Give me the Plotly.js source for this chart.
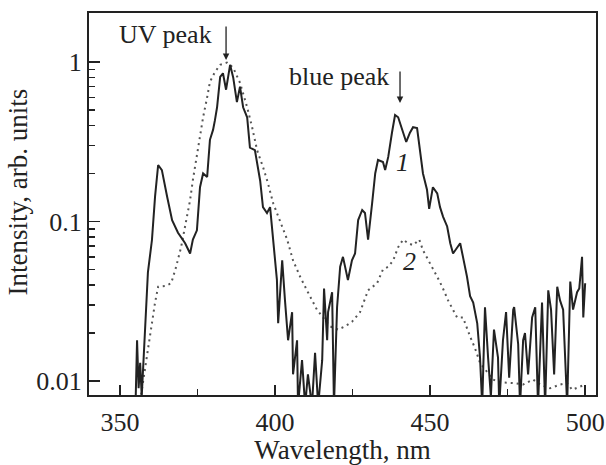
<!DOCTYPE html>
<html>
<head>
<meta charset="utf-8">
<script src="https://cdn.plot.ly/plotly-3.0.1.min.js"></script>
<style>html,body{margin:0;padding:0;background:#fff;}#chart{width:606px;height:465px;}</style>
</head>
<body>
<div id="chart"></div>
<script>
// Curve 1 (solid)
const wl1 = [355.0,355.5,356.0,356.5,357.0,357.4,358.1,359.0,360.3,361.3,362.3,363.5,365.2,366.8,368.7,371.0,372.6,373.5,374.8,375.8,376.8,378.1,379.0,380.0,380.6,381.3,382.3,383.2,384.2,385.5,386.5,387.7,388.7,389.7,391.0,391.9,393.5,395.2,396.1,397.4,398.4,399.4,400.6,401.0,402.3,403.2,404.2,405.5,405.8,407.1,407.4,408.7,409.7,410.6,411.9,412.9,413.9,415.2,415.8,416.8,417.1,418.4,419.0,420.0,421.0,421.9,423.5,424.8,425.8,426.8,428.1,429.0,430.0,431.3,432.3,433.2,434.8,435.5,436.5,437.7,438.7,439.7,441.0,442.3,443.5,444.5,445.8,446.8,447.7,449.0,449.7,450.9,452.3,453.2,454.2,455.5,456.5,457.4,458.7,459.7,460.6,461.9,462.9,463.9,465.2,466.1,466.8,467.7,468.7,469.6,470.6,471.9,472.3,473.5,474.5,475.5,476.8,477.1,478.4,479.0,480.0,480.6,481.6,482.9,483.9,484.8,486.1,487.1,488.1,489.0,490.0,491.0,491.9,492.9,494.2,495.2,496.1,497.4,498.1,499.0,499.4,500.0];
const int1 = [0.007,0.018,0.009,0.013,0.008,0.0112,0.024,0.048,0.0765,0.143,0.226,0.21,0.143,0.102,0.085,0.073,0.063,0.077,0.088,0.164,0.20,0.19,0.325,0.375,0.43,0.52,0.805,0.85,0.67,0.96,0.80,0.56,0.70,0.52,0.45,0.29,0.28,0.18,0.123,0.113,0.123,0.077,0.043,0.023,0.057,0.032,0.018,0.027,0.011,0.018,0.007,0.0135,0.007,0.011,0.007,0.015,0.007,0.0135,0.038,0.018,0.027,0.036,0.007,0.029,0.052,0.06,0.043,0.057,0.063,0.102,0.118,0.113,0.077,0.13,0.20,0.243,0.236,0.21,0.254,0.36,0.465,0.45,0.375,0.315,0.36,0.39,0.385,0.28,0.20,0.158,0.12,0.164,0.15,0.123,0.107,0.093,0.073,0.063,0.069,0.073,0.06,0.045,0.034,0.031,0.023,0.014,0.007,0.029,0.014,0.008,0.021,0.014,0.007,0.018,0.027,0.0105,0.028,0.029,0.017,0.007,0.018,0.02,0.011,0.025,0.029,0.007,0.031,0.007,0.037,0.028,0.011,0.039,0.032,0.028,0.007,0.042,0.028,0.036,0.038,0.06,0.025,0.041];

// Curve 2 (dotted)
const wl2 = [356.8,358.4,360.0,361.3,362.3,364.8,366.5,368.1,369.7,371.3,372.6,373.5,374.5,375.8,376.8,378.1,379.0,380.6,382.3,384.5,386.5,388.7,391.0,392.6,394.2,396.1,397.7,399.4,401.6,403.9,405.8,408.1,410.6,413.5,415.5,417.7,420.3,422.6,424.8,427.4,430.0,432.9,434.8,436.5,438.1,439.7,441.3,442.9,444.5,446.5,447.7,450.0,452.3,453.9,455.8,458.7,460.6,462.9,464.5,466.1,470.3,472.6,476.8,480.0,483.2,485.5,488.7,491.9,494.2,495.8,497.7,500.0];
const int2 = [0.0082,0.0135,0.022,0.031,0.039,0.0395,0.041,0.052,0.069,0.102,0.136,0.182,0.243,0.34,0.45,0.60,0.75,0.865,0.96,0.99,0.92,0.74,0.52,0.39,0.28,0.22,0.174,0.13,0.102,0.077,0.057,0.045,0.036,0.028,0.025,0.022,0.021,0.022,0.0235,0.027,0.037,0.041,0.05,0.052,0.057,0.069,0.077,0.073,0.071,0.077,0.066,0.055,0.045,0.039,0.032,0.025,0.025,0.019,0.016,0.013,0.0102,0.0098,0.0097,0.0095,0.0102,0.0095,0.009,0.0095,0.0097,0.0088,0.0091,0.0095];

const yTickVals = [0.01, 0.1, 1];
const yTickText = ['0.01', '0.1', '1'];
const yMinorVals = [0.02,0.03,0.04,0.05,0.06,0.07,0.08,0.09,0.2,0.3,0.4,0.5,0.6,0.7,0.8,0.9];

const FONT = 'Liberation Serif, Times New Roman, serif';
const INK = '#222';
const FS = 26;

const traces = [
  {x: wl2, y: int2, mode: 'lines', line: {color: '#555', width: 2, dash: '2px,4px'}, hoverinfo: 'skip'},
  {x: wl1, y: int1, mode: 'lines', line: {color: INK, width: 2}, hoverinfo: 'skip'}
];

const layout = {
  width: 606, height: 465,
  margin: {l: 89, r: 10, t: 13, b: 70},
  paper_bgcolor: '#fff', plot_bgcolor: '#fff',
  showlegend: false,
  font: {family: FONT, size: FS, color: INK},
  xaxis: {
    range: [340, 503.5], tick0: 350, dtick: 50,
    ticks: 'inside', ticklen: 10, tickwidth: 1.5, tickcolor: INK,
    minor: {dtick: 25, tick0: 350, ticks: 'inside', ticklen: 6, tickwidth: 1.5, tickcolor: INK},
    showline: true, linewidth: 2, linecolor: INK, mirror: true,
    showgrid: false, zeroline: false,
    ticklabelstandoff: 3,
    tickfont: {family: FONT, size: FS, color: INK},
    title: {text: 'Wavelength, nm', font: {family: FONT, size: 27, color: INK}, standoff: 9}
  },
  yaxis: {
    type: 'log', range: [-2.088, 0.307],
    tickmode: 'array', tickvals: yTickVals, ticktext: yTickText,
    ticks: 'inside', ticklen: 11, tickwidth: 1.5, tickcolor: INK,
    minor: {tickmode: 'array', tickvals: yMinorVals, ticks: 'inside', ticklen: 6, tickwidth: 1.5, tickcolor: INK},
    showline: true, linewidth: 2, linecolor: INK, mirror: true,
    showgrid: false, zeroline: false,
    ticklabelstandoff: 0,
    tickfont: {family: FONT, size: FS, color: INK}
  },
  annotations: [
    {xref: 'paper', yref: 'paper', x: -0.14, y: 0.53, text: 'Intensity, arb. units', textangle: -90,
     showarrow: false, font: {family: FONT, size: 27, color: INK}, xanchor: 'center', yanchor: 'middle'},
    {xref: 'x', yref: 'y', x: 384.2, y: 0.0125, text: '', showarrow: true, arrowhead: 2, arrowsize: 1, arrowwidth: 1.3,
     arrowcolor: INK, ax: 0, ay: -35},
    {xref: 'x', yref: 'y', x: 440.3, y: -0.257, text: '', showarrow: true, arrowhead: 2, arrowsize: 1, arrowwidth: 1.3,
     arrowcolor: INK, ax: 0, ay: -33},
    {xref: 'x', yref: 'y', x: 364.6, y: 0.17, text: 'UV peak', showarrow: false,
     font: {family: FONT, size: FS, color: INK}},
    {xref: 'x', yref: 'y', x: 420.6, y: -0.09, text: 'blue peak', showarrow: false,
     font: {family: FONT, size: FS, color: INK}},
    {xref: 'x', yref: 'y', x: 441.0, y: -0.63, text: '<i>1</i>', showarrow: false,
     font: {family: FONT, size: FS, color: INK}},
    {xref: 'x', yref: 'y', x: 443.2, y: -1.25, text: '<i>2</i>', showarrow: false,
     font: {family: FONT, size: FS, color: INK}}
  ]
};

Plotly.newPlot('chart', traces, layout, {staticPlot: true, displayModeBar: false});
</script>
</body>
</html>
